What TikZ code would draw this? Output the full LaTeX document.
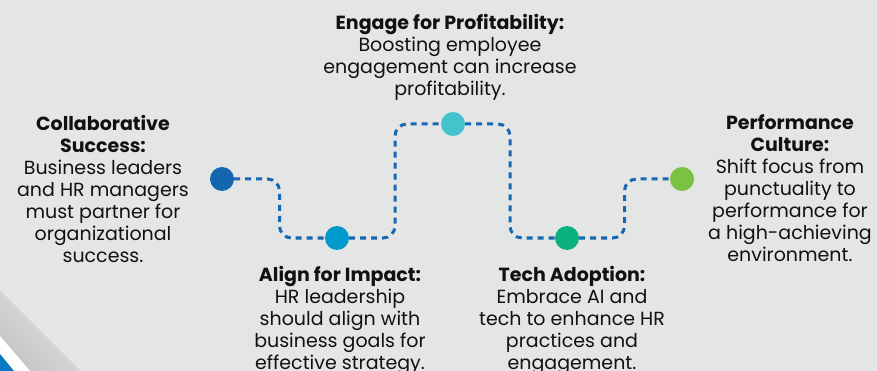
\documentclass[tikz,border=0pt]{standalone}
\usepackage{fontspec}
\setmainfont{Poppins}
\usetikzlibrary{calc}
\definecolor{bgc}{HTML}{E4E5E5}
\definecolor{shadowc}{HTML}{C4C5C5}
\definecolor{dashc}{HTML}{1767B3}
\definecolor{cA}{HTML}{1466B0}
\definecolor{cB}{HTML}{0099CC}
\definecolor{cC}{HTML}{45C3CC}
\definecolor{cD}{HTML}{0AB07E}
\definecolor{cE}{HTML}{7BC142}
\definecolor{cornerblue}{HTML}{0A78C2}
\definecolor{txt}{HTML}{111111}
\tikzset{
  dot/.style={circle, fill=#1, minimum size=24pt, inner sep=0pt},
  linkpath/.style={draw=dashc, line width=3pt, dash pattern=on 6pt off 5pt, rounded corners=12pt},
  label/.style={align=center, text=txt, inner sep=0pt, font=\fontsize{19}{22}\selectfont},
}
\begin{document}
\begin{tikzpicture}[x=1pt,y=-1pt]
\useasboundingbox (0,0) rectangle (877,371);
\fill[bgc] (0,0) rectangle (877,371);
% corner shadow and blue corner
\shade[top color=bgc, bottom color=shadowc, shading angle=-45] (0,290) -- (81,371) -- (0,371) -- cycle;
\fill[white] (0,336) -- (30,371) -- (0,371) -- cycle;
\fill[cornerblue] (0,354) -- (14,371) -- (0,371) -- cycle;
% dots
\node[dot=cA] (c1) at (222,179) {};
\node[dot=cB] (c2) at (337,238) {};
\node[dot=cC] (c3) at (453,124) {};
\node[dot=cD] (c4) at (567,238) {};
\node[dot=cE] (c5) at (682,179) {};
% connectors
\draw[linkpath] (c1.east) -| ($(c1)!0.5!(c2)$) |- (c2.west);
\draw[linkpath] (c2.east) -| ($(c2)!0.5!(c3)$) |- (c3.west);
\draw[linkpath] (c3.east) -| ($(c3)!0.5!(c4)$) |- (c4.west);
\draw[linkpath] (c4.east) -| ($(c4)!0.5!(c5)$) |- (c5.west);
% texts
\node[label] (t1) at (103,189) {\textbf{Collaborative}\\\textbf{Success:}\\Business leaders\\and HR managers\\must partner for\\organizational\\success.};
\node[label] (t2) at (340,320) {\textbf{Align for Impact:}\\HR leadership\\should align with\\business goals for\\effective strategy.};
\node[label] (t3) at (450,57) {\textbf{Engage for Profitability:}\\Boosting employee\\engagement can increase\\profitability.};
\node[label] (t4) at (572,320) {\textbf{Tech Adoption:}\\Embrace AI and\\tech to enhance HR\\practices and\\engagement.};
\node[label] (t5) at (790,188) {\textbf{Performance}\\\textbf{Culture:}\\Shift focus from\\punctuality to\\performance for\\a high-achieving\\environment.};
\end{tikzpicture}
\end{document}
